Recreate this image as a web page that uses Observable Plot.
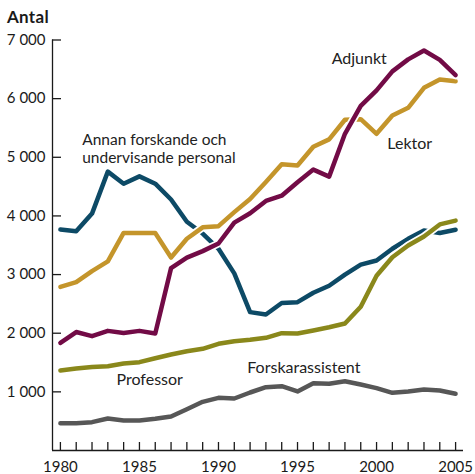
<!DOCTYPE html>
<html><head><meta charset="utf-8">
<script src="https://cdn.jsdelivr.net/npm/d3@7"></script>
<script src="https://cdn.jsdelivr.net/npm/@observablehq/plot@0.6"></script>
<style>
body{margin:0;background:#fff;font-family:Lato,sans-serif;}
#title{height:30px;box-sizing:border-box;padding:8px 0 0 7px;font-weight:bold;font-size:17px;line-height:17px;letter-spacing:0.3px;color:#1a1a1a;}
</style>
</head><body>
<div id="title">Antal</div>
<div id="chart"></div>
<script>
const years = [1980,1981,1982,1983,1984,1985,1986,1987,1988,1989,1990,1991,1992,1993,1994,1995,1996,1997,1998,1999,2000,2001,2002,2003,2004,2005];
const labelYears = [1980,1985,1990,1995,2000,2005];
const yTicks = [1000,2000,3000,4000,5000,6000,7000];

const annan = [3770,3740,4040,4755,4550,4675,4550,4280,3900,3700,3440,3020,2360,2320,2515,2530,2690,2810,3000,3170,3240,3440,3610,3750,3710,3765];
const lektor = [2790,2870,3060,3225,3710,3710,3710,3290,3610,3805,3825,4065,4290,4580,4880,4860,5180,5305,5640,5650,5400,5712,5843,6185,6326,6297];
const adjunkt = [1835,2020,1950,2040,2005,2040,1995,3110,3290,3400,3530,3885,4045,4255,4345,4575,4790,4670,5400,5875,6140,6465,6670,6820,6660,6400];
const professor = [1365,1398,1425,1437,1483,1506,1574,1637,1693,1734,1819,1864,1887,1921,2000,1995,2046,2102,2165,2450,2980,3296,3495,3650,3855,3920];
const forskarassistent = [466,466,483,546,512,512,540,580,704,830,898,887,989,1080,1097,1008,1148,1137,1182,1125,1063,984,1006,1040,1023,967];

const seriesNames = ["Forskarassistent","Annan forskande och undervisande personal","Professor","Lektor","Adjunkt"];
const seriesValues = [forskarassistent, annan, professor, lektor, adjunkt];
const seriesColors = ["#575757","#0d4a66","#8a881b","#c4952b","#720b46"];

const labelTexts = ["Adjunkt","Lektor","Professor","Forskarassistent"];
const labelX = [1997.16,2000.68,1983.55,1991.82];
const labelY = [6593,5144,1125,1325];
const annanLabel = [{text: "Annan forskande och\nundervisande personal", x: 1981.38, y: 4910}];

const labels = labelTexts.map((t,i)=>({text:t,x:labelX[i],y:labelY[i]}));
const fmt = d => d3.format(",")(d).replace(",", " ");

const lineMarks = seriesNames.flatMap((name, s) => {
  const rows = years.map((yr, i) => ({year: yr, value: seriesValues[s][i]}));
  return [
    Plot.lineY(rows, {x: "year", y: "value", stroke: "white", strokeWidth: 8}),
    Plot.lineY(rows, {x: "year", y: "value", stroke: seriesColors[s], strokeWidth: 4.5})
  ];
});

const axisColor = "#1a1a1a";
const chart = Plot.plot({
  width: 475,
  height: 444,
  marginLeft: 52,
  marginRight: 12,
  marginTop: 9.5,
  marginBottom: 24,
  style: {fontFamily: "Lato, sans-serif", fontSize: "15px", color: axisColor, background: "white"},
  x: {domain: [1979.5, 2005.5], axis: null},
  y: {domain: [0, 7000], axis: null},
  marks: [
    ...lineMarks,
    Plot.ruleY([0], {stroke: axisColor, strokeWidth: 1.3}),
    Plot.ruleX([1979.5], {y1: 0, y2: 7000, stroke: axisColor, strokeWidth: 1.3}),
    Plot.axisX(years, {tickSize: -8, tickFormat: () => "", stroke: axisColor, strokeWidth: 1.3}),
    Plot.axisX(labelYears, {tickSize: 0, tickPadding: 11, tickFormat: d => String(d), fontSize: 15, fill: axisColor}),
    Plot.axisY(yTicks, {tickSize: -9, tickFormat: () => "", stroke: axisColor, strokeWidth: 1.3}),
    Plot.axisY(yTicks, {tickSize: 0, tickPadding: 7, tickFormat: fmt, fontSize: 15, fill: axisColor}),
    Plot.text(labels, {x: "x", y: "y", text: "text", textAnchor: "start", lineAnchor: "bottom", fontSize: 16, fill: "#222"}),
    Plot.text(annanLabel, {x: "x", y: "y", text: "text", textAnchor: "start", lineAnchor: "bottom", lineHeight: 1.13, fontSize: 15.5, fill: "#222"})
  ]
});
document.getElementById("chart").appendChild(chart);
</script>
</body></html>
